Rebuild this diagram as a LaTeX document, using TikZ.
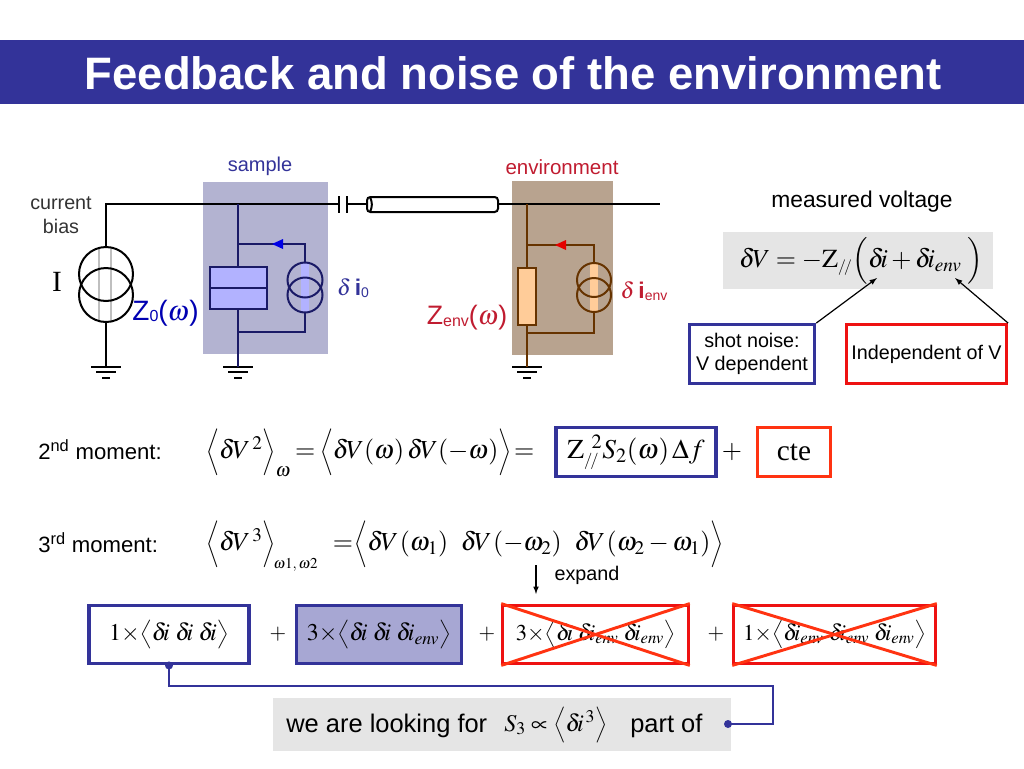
\documentclass[tikz,border=0pt]{standalone}
\usepackage{mathptmx}
\usepackage[no-math]{fontspec}
\setmainfont{Liberation Sans}
\newfontfamily\serifrm{Liberation Serif}
\definecolor{navy}{HTML}{333399}
\definecolor{wirenavy}{HTML}{1A1A66}
\definecolor{wirebrown}{HTML}{663300}
\definecolor{hotred}{HTML}{EE1111}
\definecolor{crossred}{HTML}{FF3311}
\definecolor{envred}{HTML}{C01C30}
\definecolor{samplebg}{HTML}{B3B3D1}
\definecolor{envbg}{HTML}{B8A38F}
\newcommand{\fs}[1]{\fontsize{#1}{#1}\selectfont}
\newcommand{\lbr}[1][.6]{\mathopen{\vcenter{\hbox{\scalebox{.62}[#1]{$\Bigg\langle$}}}}}
\newcommand{\rbr}[1][.6]{\mathclose{\vcenter{\hbox{\scalebox{.62}[#1]{$\Bigg\rangle$}}}}}
\newcommand{\dV}{\delta\!V}
\newcommand{\di}{\delta\!\hspace{-.5pt} i}
\newcommand{\denv}{\delta\!\hspace{-.5pt} i_{env}}
\newcommand{\Zpar}{\mathrm{Z}_{\scriptscriptstyle /\!/}}
\tikzset{
  txtlabel/.style={inner sep=0pt,font=\fs{14.8}},
  eqn/.style={inner sep=0pt,font=\fs{19.5}},
  blubox/.style={draw=navy,line width=2.4pt,minimum height=44pt,inner sep=0pt},
  redbox/.style={draw=hotred,line width=2.4pt,minimum height=44pt,inner sep=0pt},
  crossline/.style={draw=crossred,line width=2.2pt},
  wire/.style={line width=1.5pt},
}
\begin{document}
\begin{tikzpicture}[x=0.75pt,y=-0.75pt]
\useasboundingbox (0,0) rectangle (1024,768);
\fill[navy] (0,40) rectangle (1024,104);
\node[inner sep=0pt,text=white,font=\fs{34.1}\bfseries] (title) at (513,73) {Feedback and noise of the environment};

\fill[samplebg] (203,182) rectangle (328,354);
\fill[envbg] (512,181) rectangle (613,355);
\fill[blue!30] (301,263) rectangle (309,312);
\fill[orange!40] (590,263) rectangle (598,312);

\draw[wire] (106,247) -- (106,204) -- (339,204);
\draw[wire] (339,196) -- (339,213);
\draw[wire] (347,196) -- (347,213);
\draw[wire] (347,204) -- (367,204);
\draw[wire,fill=white,rounded corners=2.5pt] (367,197) rectangle (498,212);
\draw[wire] (370,197) to[bend left=25] (370,212);
\draw[wire] (498,204) -- (660,204);
\draw[wire] (106,322) -- (106,367);
\draw[black!25,line width=.8pt] (99,248) -- (99,321);
\draw[black!25,line width=.8pt] (111,248) -- (111,321);
\draw[wire] (106,274) circle (27);
\draw[wire] (106,295) circle (27);
\foreach \gx in {106,238,527}
{
\draw[wire] (\gx-15,367) -- (\gx+15,367);
\draw[wire] (\gx-10,372) -- (\gx+10,372);
\draw[line width=1.6pt] (\gx-4,378) -- (\gx+4,378);
}

\draw[wire,wirenavy] (238,204) -- (238,367);
\draw[wire,wirenavy] (238,244) -- (305,244) -- (305,263);
\draw[wire,wirenavy] (305,312) -- (305,332) -- (238,332);
\draw[wire,wirenavy,fill=blue!30] (210,267) rectangle (267,309);
\draw[wire,wirenavy] (210,288) -- (267,288);
\draw[wire,wirenavy] (305,280) circle (17.5);
\draw[wire,wirenavy] (305,295) circle (17.5);
\fill[blue!90!black] (272,244) -- (283,239) -- (283,249) -- cycle;

\draw[wire,wirebrown] (527,204) -- (527,367);
\draw[wire,wirebrown] (527,245) -- (594,245) -- (594,263);
\draw[wire,wirebrown] (594,312) -- (594,333) -- (527,333);
\draw[wire,wirebrown,fill=orange!40] (518,268) rectangle (536,325);
\draw[wire,wirebrown] (594,280) circle (17);
\draw[wire,wirebrown] (594,295) circle (17);
\fill[red!90!black] (555,245) -- (566,240) -- (566,250) -- cycle;

\node[txtlabel,align=center,text=black!80] (bias) at (61,215) {current\\[3pt]bias};
\node[inner sep=0pt,font=\fs{22}\serifrm] (srcI) at (57,282) {I};
\node[txtlabel,font=\fs{15},text=navy] (sample) at (260,166) {sample};
\node[txtlabel,font=\fs{15.4},text=envred] (environment) at (562,167) {environment};
\node[inner sep=0pt,text=blue!70!black,font=\fs{21}] (Zzero) at (165.5,313) {Z\raisebox{-1pt}{\fs{12}0}($\omega$)};
\node[inner sep=0pt,text=envred,font=\fs{20}] (Zenv) at (467,318) {Z\raisebox{-1pt}{\fs{12}env}($\omega$)};
\node[inner sep=0pt,text=navy,font=\fs{17}] (dizero) at (353,288) {$\delta$\,\textbf{i}\raisebox{-1pt}{\fs{10.5}0}};
\node[inner sep=0pt,text=envred,font=\fs{17}] (dienv) at (644,291) {$\delta$\,\textbf{i}\raisebox{-1pt}{\fs{10.5}env}};

\node[txtlabel,font=\fs{17.1}] (measured) at (862,202) {measured voltage};
\node[fill=black!10,minimum width=202.5pt,minimum height=42.75pt,inner sep=0pt] (voltbox) at (858,260.5) {};
\node[eqn] (volteq) at (861,261) {$\dV=-\Zpar\Bigl(\di+\denv\;\Bigr)$};
\node[blubox,minimum width=94pt,align=center,txtlabel] (shotbox) at (752,354) {shot noise:\\[3pt]V dependent};
\node[redbox,minimum width=120pt,txtlabel] (indepbox) at (926.5,354) {Independent of V};
\coordinate (ditip) at (877,278);
\coordinate (envtip) at (955,278);
\draw[-latex,line width=.9pt] (shotbox.north east) -- (ditip);
\draw[-latex,line width=.9pt] (indepbox.north east) -- (envtip);

\node[anchor=west,txtlabel,font=\fs{16.6}] (second) at (38,450) {2\textsuperscript{nd} moment:};
\node[anchor=west,eqn] (secondeq) at (206,453) {$\lbr\dV^{\,2}\rbr_{\omega}\hspace{3pt}{=}\hspace{3.5pt}\lbr\dV(\omega)\,\dV({-}\omega)\rbr\hspace{2pt}{=}$};
\node[blubox,minimum width=120pt,minimum height=37pt,eqn,font=\fs{20.5},line width=2.4pt] (specbox) at (636,452) {$\Zpar^{\ 2}S_2(\omega)\,\Delta f$};
\node[eqn] (plusa) at (732,452) {$+$};
\node[draw=crossred,line width=2.4pt,minimum width=55pt,minimum height=37pt,inner sep=0pt,font=\fs{22}\serifrm] (ctebox) at (794,452) {cte};

\node[anchor=west,txtlabel,font=\fs{16.6}] (third) at (38,543) {3\textsuperscript{rd} moment:};
\node[anchor=west,eqn] (thirdeq) at (206,546) {$\lbr\dV^{\,3}\rbr_{\!\mbox{\fs{11.3}$\omega 1,\omega 2$}}\hspace{11pt}{=}\hspace{1pt}\lbr\dV\hspace{1pt}(\omega_1)\,\,\,\hspace{3pt}\dV\hspace{1pt}({-}\omega_2)\,\,\,\hspace{3pt}\dV\hspace{1pt}(\omega_2-\omega_1)\rbr$};
\coordinate (expandtop) at (536,565);
\coordinate (expandend) at (536,594);
\draw[-latex,line width=.9pt] (expandtop) -- (expandend);
\node[txtlabel] (expand) at (587,575) {expand};

\node[blubox,minimum width=120pt,eqn,font=\fs{18}] (termone) at (169,634.5) {$1{\times}\lbr[.4]\di\;\di\;\di\rbr[.4]$};
\node[blubox,fill=navy!43!white,minimum width=124pt,eqn,font=\fs{18}] (termtwo) at (379,634.5) {$3{\times}\lbr[.4]\di\;\di\;\denv\rbr[.4]$};
\node[redbox,minimum width=139pt,eqn,font=\fs{17}] (termthree) at (595.5,634.5) {$3{\times}\lbr[.42]\di\;\denv\;\denv\rbr[.42]$};
\node[redbox,minimum width=151pt,eqn,font=\fs{17}] (termfour) at (834.5,634.5) {$1{\times}\lbr[.42]\denv\;\denv\;\denv\rbr[.42]$};
\draw[crossline] (termthree.north west) -- (termthree.south east);
\draw[crossline] (termthree.south west) -- (termthree.north east);
\draw[crossline] (termfour.north west) -- (termfour.south east);
\draw[crossline] (termfour.south west) -- (termfour.north east);
\node[eqn,font=\fs{16}] (plusb) at (278,634) {$+$};
\node[eqn,font=\fs{16}] (plusc) at (487,634) {$+$};
\node[eqn,font=\fs{16}] (plusd) at (716,634) {$+$};

\node[fill=black!10,minimum width=343.5pt,minimum height=40pt,inner sep=0pt] (lookbox) at (502,724.5) {};
\node[anchor=west,txtlabel,font=\fs{19.1}] (lookfor) at (286,726) {we are looking for};
\node[anchor=west,eqn,font=\fs{18}] (lookeq) at (504,725) {$S_3\propto\lbr[.5]\di^{\,3}\rbr[.5]$};
\node[anchor=west,txtlabel,font=\fs{19.1}] (partof) at (630,726) {part of};
\coordinate (dotend) at (728,724);
\fill[navy] (termone.south) circle (4);
\fill[navy] (dotend) circle (4);
\draw[navy,line width=1.5pt] (termone.south) -- ++(0,21) -| (773,724) -- (dotend);
\end{tikzpicture}
\end{document}
